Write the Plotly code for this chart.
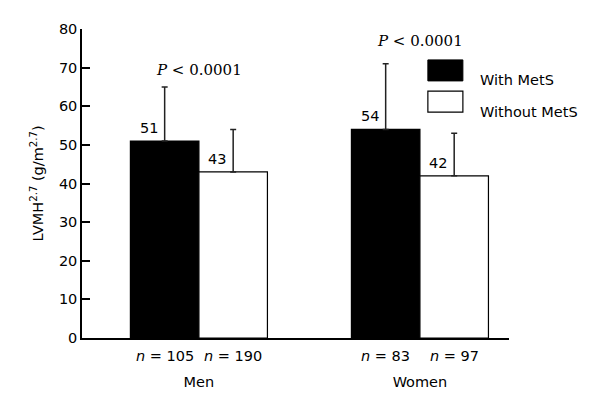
import plotly.graph_objects as go

groups = ['Men', 'Women']
with_mets = [51, 54]
with_mets_sd = [14, 17]
without_mets = [43, 42]
without_mets_sd = [11, 11]
n_with = [105, 83]
n_without = [190, 97]
p_labels = ['<i>P</i> < 0.0001', '<i>P</i> < 0.0001']
p_heights = [69.4, 77.0]

font_main = 'DejaVu Sans'
fs = 14.5
bargap = 0.38
half = (1 - bargap) / 4  # offset of each bar centre from the group centre

fig = go.Figure()

fig.add_trace(go.Bar(
    x=groups, y=with_mets, name='With MetS',
    marker=dict(color='black', line=dict(color='black', width=1.2)),
    error_y=dict(type='data', array=with_mets_sd, arrayminus=[0, 0],
                 symmetric=False, color='#222222', thickness=1.5, width=3),
    showlegend=False
))
fig.add_trace(go.Bar(
    x=groups, y=without_mets, name='Without MetS',
    marker=dict(color='white', line=dict(color='black', width=1.2)),
    error_y=dict(type='data', array=without_mets_sd, arrayminus=[0, 0],
                 symmetric=False, color='#222222', thickness=1.5, width=3),
    showlegend=False
))

annotations = []
for i, g in enumerate(groups):
    # value labels, left of the error bar
    for off, val, n in [(-half, with_mets[i], n_with[i]), (half, without_mets[i], n_without[i])]:
        annotations.append(dict(x=i + off, y=val, xref='x', yref='y', text=str(val),
                                showarrow=False, xshift=-16, yanchor='bottom', yshift=3,
                                font=dict(family=font_main, size=fs, color='black')))
        annotations.append(dict(x=i + off, y=0, xref='x', yref='y', text=f'<i>n</i> = {n}',
                                showarrow=False, yanchor='top', yshift=-8,
                                font=dict(family=font_main, size=fs, color='black')))
    annotations.append(dict(x=i, y=p_heights[i], xref='x', yref='y', text=p_labels[i],
                            showarrow=False,
                            font=dict(family='DejaVu Serif', size=15, color='black')))

# legend drawn as boxes + labels
shapes = [
    dict(type='rect', xref='paper', yref='paper', x0=0.810, x1=0.892, y0=0.832, y1=0.900,
         fillcolor='black', line=dict(color='black', width=1)),
    dict(type='rect', xref='paper', yref='paper', x0=0.810, x1=0.892, y0=0.731, y1=0.799,
         fillcolor='white', line=dict(color='black', width=1.2)),
]
annotations.append(dict(x=0.927, y=0.866, xref='paper', yref='paper', text='With MetS',
                        showarrow=False, xanchor='left',
                        font=dict(family=font_main, size=fs, color='black')))
annotations.append(dict(x=0.927, y=0.765, xref='paper', yref='paper', text='Without MetS',
                        showarrow=False, xanchor='left',
                        font=dict(family=font_main, size=fs, color='black')))

fig.update_layout(
    width=592, height=396,
    margin=dict(l=74, r=91, t=21, b=66, autoexpand=False),
    plot_bgcolor='white', paper_bgcolor='white',
    barmode='group', bargap=bargap, bargroupgap=0,
    annotations=annotations, shapes=shapes,
    font=dict(family=font_main, size=fs, color='black'),
    xaxis=dict(range=[-0.529, 1.403], showline=True, linecolor='black', linewidth=1.5,
               ticks='', tickfont=dict(size=fs), ticklabelstandoff=30,
               showgrid=False, zeroline=False),
    yaxis=dict(range=[0, 80], dtick=10, showline=True, linecolor='black', linewidth=1.5,
               ticks='inside', ticklen=8, tickwidth=1.5, tickcolor='black',
               tickfont=dict(size=fs), showgrid=False, zeroline=False,
               title=dict(text='LVMH<sup>2.7</sup> (g/m<sup>2.7</sup>)', standoff=12,
                          font=dict(size=fs))),
)

fig.write_html('out.html')
